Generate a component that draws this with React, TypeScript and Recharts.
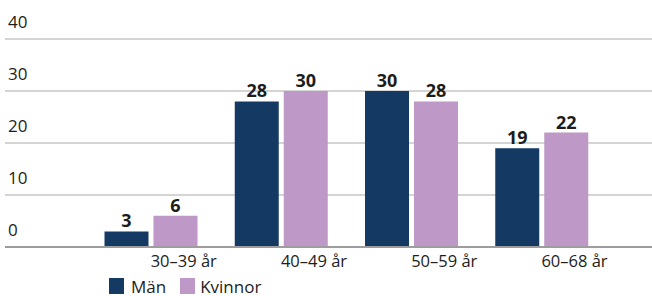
import React from 'react';
import { BarChart, Bar, XAxis, YAxis, CartesianGrid, Legend, LabelList } from 'recharts';

const categories = ['30–39 år', '40–49 år', '50–59 år', '60–68 år'];
const man = [3, 28, 30, 19];
const kvinnor = [6, 30, 28, 22];
const yTicks = [0, 10, 20, 30, 40];

const NAVY = '#143a64';
const LILAC = '#be98c6';
const TEXT = '#1d1d1b';
const FONT = '"Open Sans", sans-serif';

const data = categories.map((c, i) => ({ age: c, man: man[i], kvinnor: kvinnor[i] }));

const renderYTick = (props: any) => {
  const { y, payload } = props;
  return (
    <text x={8} y={y - 11} textAnchor="start" fontSize={17} fill={TEXT} fontFamily={FONT}>
      {payload.value}
    </text>
  );
};

const renderXTick = (props: any) => {
  const { x, y, payload } = props;
  return (
    <text x={x} y={y + 12} textAnchor="start" fontSize={16.5} fill={TEXT} fontFamily={FONT}>
      {payload.value}
    </text>
  );
};

// reference crops the legend at the bottom edge; keep it just inside here
const LegendContent = () => (
  <div style={{ height: 25, paddingTop: 7, boxSizing: 'border-box' }}>
    <div style={{ display: 'flex', alignItems: 'center', paddingLeft: 105, fontFamily: FONT, fontSize: 17, color: TEXT, height: 16, lineHeight: '16px' }}>
      <span style={{ width: 15, height: 16, background: NAVY, display: 'inline-block', marginRight: 7 }} />
      <span style={{ marginRight: 14, marginTop: 1 }}>Män</span>
      <span style={{ width: 15, height: 16, background: LILAC, display: 'inline-block', marginRight: 5 }} />
      <span style={{ marginTop: 1 }}>Kvinnor</span>
    </div>
  </div>
);

const App = () => {
  return (
    <div style={{ position: 'absolute', left: 0, top: 0, width: 652, height: 296, overflow: 'hidden', background: '#fff' }}>
      <BarChart
        width={652}
        height={296}
        data={data}
        margin={{ top: 39, right: 0, left: 4, bottom: 0 }}
        barSize={44}
        barGap={5}
      >
        <CartesianGrid vertical={false} stroke="#c6c6c6" strokeWidth={1.5} />
        <XAxis
          dataKey="age"
          height={24}
          padding={{ left: 80.5, right: 45.5 }}
          axisLine={{ stroke: '#9d9d9d', strokeWidth: 2 }}
          tickLine={false}
          tick={renderXTick}
          interval={0}
        />
        <YAxis
          width={1}
          domain={[0, 40]}
          ticks={yTicks}
          axisLine={false}
          tickLine={false}
          tick={renderYTick}
          interval={0}
        />
        <Legend verticalAlign="bottom" height={25} content={<LegendContent />} />
        <Bar dataKey="man" name="Män" fill={NAVY} isAnimationActive={false}>
          <LabelList dataKey="man" position="top" offset={4} fontSize={18} fontWeight="bold" fill={TEXT} fontFamily={FONT} />
        </Bar>
        <Bar dataKey="kvinnor" name="Kvinnor" fill={LILAC} isAnimationActive={false}>
          <LabelList dataKey="kvinnor" position="top" offset={4} fontSize={18} fontWeight="bold" fill={TEXT} fontFamily={FONT} />
        </Bar>
      </BarChart>
    </div>
  );
};

export default App;
